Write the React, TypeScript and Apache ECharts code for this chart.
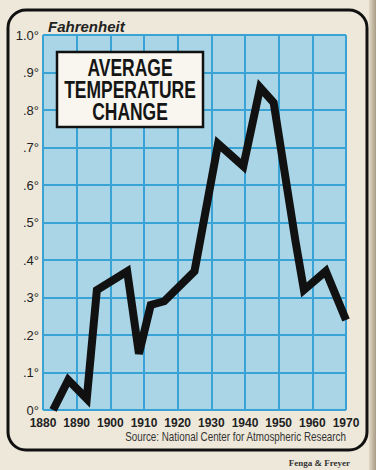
import React, { useEffect, useRef } from "react";
import * as echarts from "echarts";

const years = [1883, 1887.5, 1893, 1896, 1905, 1908.5, 1912, 1916, 1925, 1932, 1939.5, 1944.5, 1948.5, 1955, 1957.5, 1964, 1970];
const values = [0, 0.08, 0.03, 0.32, 0.37, 0.15, 0.28, 0.29, 0.37, 0.71, 0.65, 0.86, 0.82, 0.45, 0.32, 0.37, 0.24];
const yTickLabels = ["0°", ".1°", ".2°", ".3°", ".4°", ".5°", ".6°", ".7°", ".8°", ".9°", "1.0°"];
const titleLines = ["AVERAGE", "TEMPERATURE", "CHANGE"];

export default function App() {
  const ref = useRef<HTMLDivElement>(null);
  useEffect(() => {
    if (!ref.current) return;
    const chart = echarts.init(ref.current, null, { renderer: "svg" });
    const sans = "'Liberation Sans', Arial, sans-serif";
    chart.setOption({
      animation: false,
      backgroundColor: "#eee8da",
      grid: {
        left: 43,
        right: 30,
        top: 35,
        bottom: 60,
        show: true,
        backgroundColor: "#a9d5e7",
        borderWidth: 0,
      },
      xAxis: {
        type: "value",
        min: 1880,
        max: 1970,
        interval: 10,
        axisLine: { show: false },
        axisTick: { show: false },
        axisLabel: {
          color: "#222",
          fontFamily: sans,
          fontWeight: "bold",
          fontSize: 12,
          margin: 7,
          showMinLabel: true,
          showMaxLabel: true,
          formatter: (v: number) => String(v),
        },
        splitLine: { show: true, lineStyle: { color: "#3aa3d6", width: 2 } },
      },
      yAxis: {
        type: "value",
        min: 0,
        max: 1,
        interval: 0.1,
        axisLine: { show: false },
        axisTick: { show: false },
        axisLabel: {
          color: "#222",
          fontFamily: sans,
          fontSize: 13,
          margin: 4,
          formatter: (v: number) => yTickLabels[Math.round(v * 10)],
        },
        splitLine: { show: true, lineStyle: { color: "#3aa3d6", width: 2 } },
      },
      series: [
        {
          type: "line",
          data: years.map((y, i) => [y, values[i]]),
          symbol: "none",
          clip: true,
          lineStyle: { color: "#111", width: 8, join: "miter", cap: "butt" },
          z: 5,
        },
      ],
      graphic: [
        {
          type: "rect",
          shape: { x: 8, y: 10, width: 359, height: 440, r: 18 },
          style: { fill: "none", stroke: "#111", lineWidth: 3 },
          z: 10,
        },
        {
          type: "rect",
          shape: { x: 369, y: 0, width: 7, height: 470 },
          style: {
            fill: new echarts.graphic.LinearGradient(0, 0, 1, 0, [
              { offset: 0, color: "#e2d9c6" },
              { offset: 1, color: "#a89c86" },
            ]),
          },
          z: 1,
        },
        {
          type: "rect",
          shape: { x: 57, y: 52, width: 146, height: 75 },
          style: { fill: "#f8f6ef", stroke: "#111", lineWidth: 2.5 },
          z: 20,
        },
        {
          type: "text",
          x: 130,
          y: 90,
          scaleX: 0.76,
          z: 21,
          style: {
            text: titleLines.join("\n"),
            fill: "#151515",
            font: "bold 23px " + sans,
            lineHeight: 22,
            textAlign: "center",
            textVerticalAlign: "middle",
          },
        },
        {
          type: "text",
          x: 48,
          y: 26,
          z: 21,
          style: {
            text: "Fahrenheit",
            fill: "#222",
            font: "italic bold 15px " + sans,
            textVerticalAlign: "middle",
          },
        },
        {
          type: "text",
          x: 346,
          y: 437,
          scaleX: 0.82,
          z: 21,
          style: {
            text: "Source: National Center for Atmospheric Research",
            fill: "#333",
            font: "12px " + sans,
            textAlign: "right",
            textVerticalAlign: "middle",
          },
        },
        {
          type: "text",
          x: 350,
          y: 463,
          z: 21,
          style: {
            text: "Fenga & Freyer",
            fill: "#333",
            font: "bold 9px 'Liberation Serif', serif",
            textAlign: "right",
            textVerticalAlign: "middle",
          },
        },
      ],
    });
    return () => chart.dispose();
  }, []);
  return (
    <div
      ref={ref}
      style={{ position: "fixed", left: 0, top: 0, width: 376, height: 470 }}
    />
  );
}
